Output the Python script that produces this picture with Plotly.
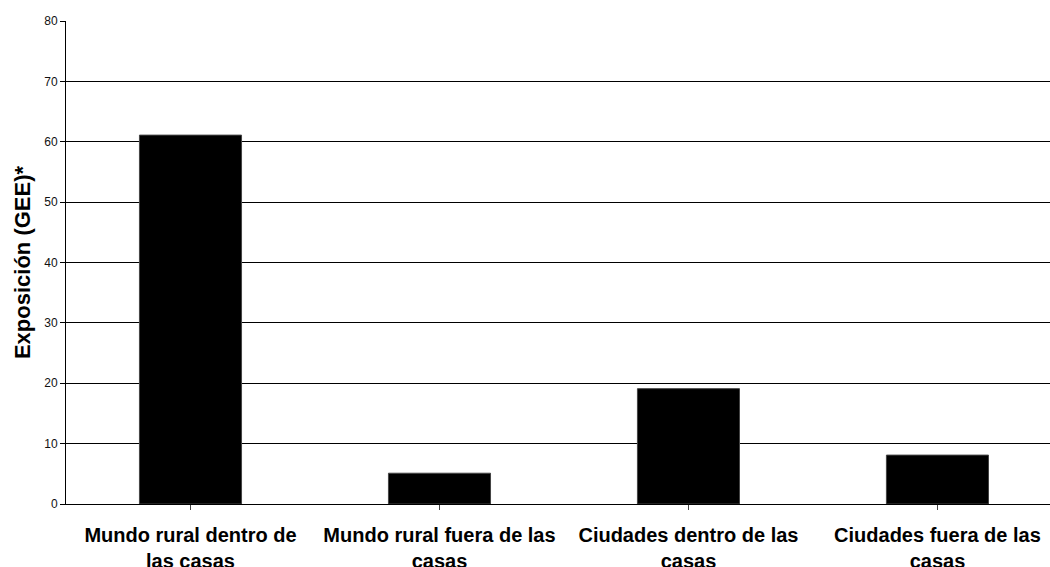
import plotly.graph_objects as go

categories = ["Mundo rural dentro de<br>las casas", "Mundo rural fuera de las<br>casas",
              "Ciudades dentro de las<br>casas", "Ciudades fuera de las<br>casas"]
values = [61.1, 5.1, 19.1, 8.1]
y_ticks = [0, 10, 20, 30, 40, 50, 60, 70, 80]

fig = go.Figure()
fig.add_trace(go.Bar(
    x=list(range(len(categories))), y=values,
    marker=dict(color="black", line=dict(color="#444", width=1)),
    width=0.41,
))

fig.update_layout(
    width=1050, height=567,
    margin=dict(l=66, r=0, t=21, b=63, autoexpand=False),
    paper_bgcolor="white", plot_bgcolor="white",
    font=dict(family="Liberation Sans, Arial, sans-serif", color="black"),
    showlegend=False,
    xaxis=dict(
        tickmode="array", tickvals=list(range(len(categories))),
        ticktext=["<b>" + c.replace("<br>", "</b><br><b>") + "</b>" for c in categories],
        range=[-0.5, 3.452],
        tickfont=dict(size=20, family="Liberation Sans, Arial, sans-serif", color="black"),
        ticks="outside", ticklen=5, tickcolor="#444", tickson="boundaries",
        ticklabelstandoff=8, automargin=False,
        showline=True, linecolor="black", linewidth=1,
        showgrid=False, zeroline=False,
    ),
    yaxis=dict(
        range=[0, 80], tickvals=y_ticks,
        tickfont=dict(size=12, color="#111"),
        ticks="outside", ticklen=5, tickcolor="black",
        showline=True, linecolor="black", linewidth=1,
        showgrid=True, gridcolor="black", gridwidth=1,
        zeroline=False, automargin=False,
        title=dict(text="<b>Exposición (GEE)*</b>", font=dict(size=22, color="black"), standoff=7),
    ),
)

fig.write_html("out.html")
